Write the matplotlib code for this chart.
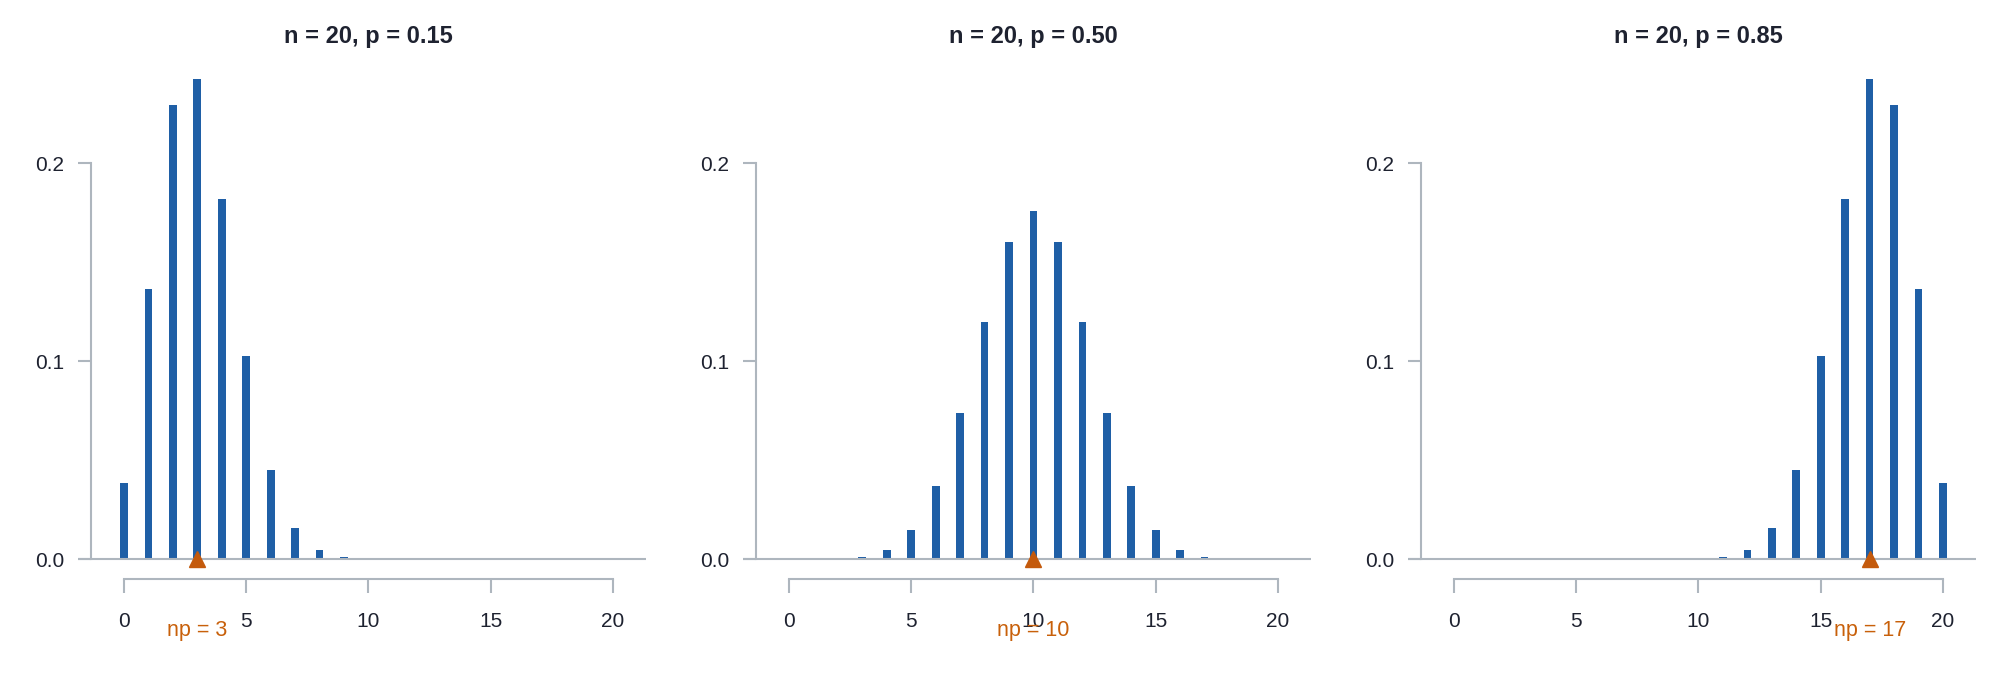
import numpy as np
import matplotlib
matplotlib.use('Agg')
import matplotlib.pyplot as plt
from matplotlib.transforms import blended_transform_factory

plt.rcParams['font.family'] = ['Liberation Sans', 'DejaVu Sans']

# values (P(X = k) for k = 0..20)
k_values = list(range(21))
pmf_p15 = [0.0388, 0.1368, 0.2293, 0.2428, 0.1821, 0.1028, 0.0454, 0.0160, 0.0046, 0.0011,
           0.0002, 0.0000, 0.0000, 0.0000, 0.0000, 0.0000, 0.0000, 0.0000, 0.0000, 0.0000, 0.0000]
pmf_p50 = [0.0000, 0.0000, 0.0002, 0.0011, 0.0046, 0.0148, 0.0370, 0.0739, 0.1201, 0.1602,
           0.1762, 0.1602, 0.1201, 0.0739, 0.0370, 0.0148, 0.0046, 0.0011, 0.0002, 0.0000, 0.0000]
pmf_p85 = [0.0000, 0.0000, 0.0000, 0.0000, 0.0000, 0.0000, 0.0000, 0.0000, 0.0000, 0.0000,
           0.0002, 0.0011, 0.0046, 0.0160, 0.0454, 0.1028, 0.1821, 0.2428, 0.2293, 0.1368, 0.0388]

titles = ['n = 20, p = 0.15', 'n = 20, p = 0.50', 'n = 20, p = 0.85']
np_values = [3, 10, 17]
np_labels = ['np = 3', 'np = 10', 'np = 17']
x_ticks = [0, 5, 10, 15, 20]
y_ticks = [0.0, 0.1, 0.2]
y_ticklabels = ['0.0', '0.1', '0.2']

bar_color = '#1F5FA6'
axis_color = '#AEB6BE'
mark_color = '#C45A0C'
text_dark = '#1E2230'

W, H = 1996, 691
fig = plt.figure(figsize=(W / 100, H / 100), dpi=100)

xlim = (-1.881, 21.35)
ylim = (-0.00985, 0.25)
panel_step = 665

series = [pmf_p15, pmf_p50, pmf_p85]
for i in range(3):
    left_px = 78 + panel_step * i
    ax = fig.add_axes([left_px / W, (H - 579) / H, 568 / W, 514.5 / H])
    ax.set_xlim(*xlim)
    ax.set_ylim(*ylim)

    ax.bar(k_values, series[i], width=0.315, color=bar_color, zorder=2)
    ax.axhline(0, color=axis_color, lw=1.5, zorder=3)
    ax.plot([np_values[i]], [0], marker='^', markersize=12, color=mark_color,
            linestyle='none', zorder=4, clip_on=False)

    for side in ['top', 'right']:
        ax.spines[side].set_visible(False)
    ax.spines['left'].set_position(('data', -1.35))
    ax.spines['left'].set_bounds(0, 0.2)
    ax.spines['bottom'].set_bounds(0, 20)
    for side in ['left', 'bottom']:
        ax.spines[side].set_color(axis_color)
        ax.spines[side].set_linewidth(1.5)

    ax.set_xticks(x_ticks)
    ax.set_yticks(y_ticks)
    ax.set_yticklabels(y_ticklabels)
    ax.tick_params(axis='both', colors=axis_color, labelcolor=text_dark,
                   labelsize=15, width=1.5)
    ax.tick_params(axis='x', length=10, pad=14)
    ax.tick_params(axis='y', length=9.5, pad=9.5)

    trans = blended_transform_factory(ax.transData, fig.transFigure)
    ax.text(10, (H - 42.7) / H, titles[i], transform=trans, ha='center', va='baseline',
            fontsize=17, fontweight='bold', color=text_dark)
    ax.text(np_values[i], -0.0388, np_labels[i], ha='center', va='baseline',
            fontsize=15.5, color='#C8600A', clip_on=False, zorder=5)

fig.savefig('out.png', dpi=100, facecolor='white')
